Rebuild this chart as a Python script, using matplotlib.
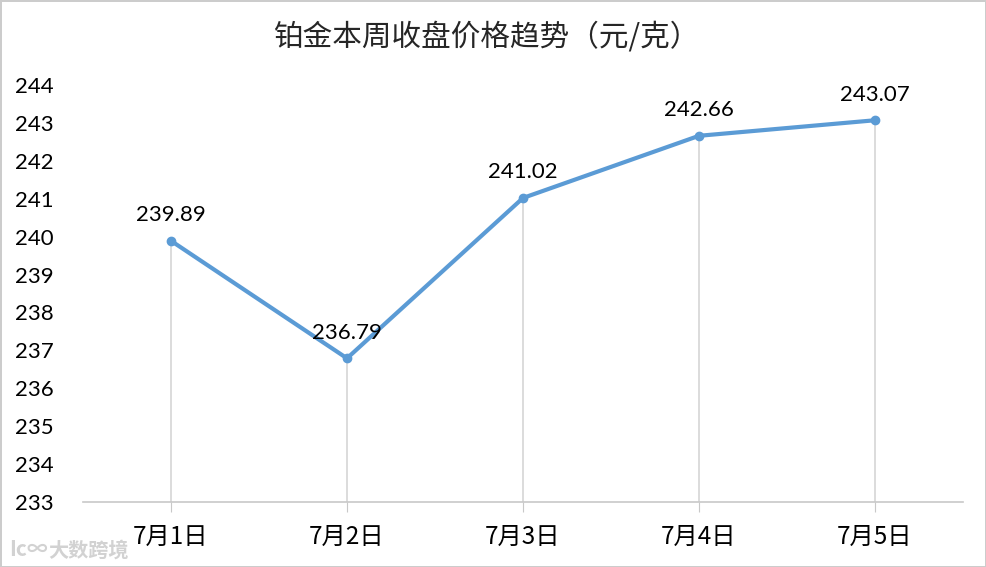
#!/usr/bin/env python3

import matplotlib
matplotlib.use('Agg')
import matplotlib.pyplot as plt

plt.rcParams['font.family'] = ['Noto Sans CJK SC', 'DejaVu Sans']

dates = ['7月1日', '7月2日', '7月3日', '7月4日', '7月5日']
prices = [239.89, 236.79, 241.02, 242.66, 243.07]
y_ticks = list(range(233, 245))

fig = plt.figure(figsize=(9.86, 5.67), dpi=100)
fig.patch.set_edgecolor('#cccccc')
fig.patch.set_linewidth(2)
ax = fig.add_axes([83/986, 1-502/567, (963-83)/986, (502-85)/567])

x = list(range(len(dates)))
ax.vlines(x, 233, prices, color='#d9d9d9', linewidth=1.3, zorder=1)
ax.plot(x, prices, '-o', color='#5b9bd5', linewidth=3, markersize=6, zorder=2)

for xi, p in zip(x, prices):
    ax.annotate('%.2f' % p, (xi, p), xytext=(0, 18.5), textcoords='offset points',
                ha='center', va='center', fontsize=16, color='black',
                family=['Lato', 'DejaVu Sans'])

ax.set_xlim(-0.5, 4.5)
ax.set_ylim(233, 244)
ax.set_xticks(x)
ax.set_xticklabels(dates, fontsize=17.5, color='black')
ax.set_yticks(y_ticks)
ax.set_yticklabels([str(t) for t in y_ticks], fontsize=16, color='black',
                   family=['Lato', 'DejaVu Sans'])
ax.tick_params(axis='y', length=0, pad=49)
ax.tick_params(axis='x', length=7, color='#c8c8c8', pad=8.5, direction='out')
for lab in ax.get_yticklabels():
    lab.set_ha('left')
ax.spines[['top', 'right', 'left']].set_visible(False)
ax.spines['bottom'].set_color('#c8c8c8')
ax.spines['bottom'].set_linewidth(1.2)

fig.text(486/986, 1-37/567, '铂金本周收盘价格趋势（元/克）', ha='center', va='center',
         fontsize=21.3, color='#262626')
# faint watermark bottom left
fig.text(9/986, 1-549/567, 'Ic∞', ha='left', va='center', fontsize=15,
         color='#d2d2d2', fontweight='bold')
fig.text(48/986, 1-550/567, '大数跨境', ha='left', va='center', fontsize=14.5,
         color='#d2d2d2', fontweight='bold')

fig.savefig('out.png', dpi=100, edgecolor=fig.get_edgecolor())
